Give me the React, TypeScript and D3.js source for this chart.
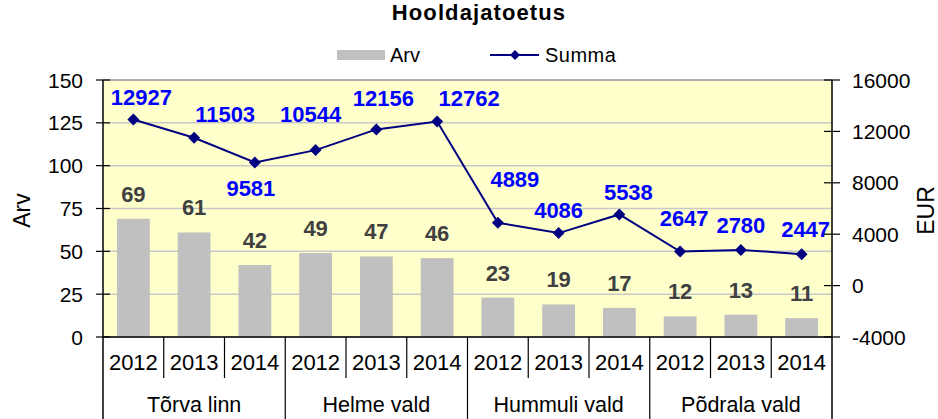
import React from "react";
import * as d3 from "d3";

const groups = ["Tõrva linn", "Helme vald", "Hummuli vald", "Põdrala vald"];
const years = ["2012", "2013", "2014"];
const arv = [69, 61, 42, 49, 47, 46, 23, 19, 17, 12, 13, 11];
const summa = [12927, 11503, 9581, 10544, 12156, 12762, 4889, 4086, 5538, 2647, 2780, 2447];
const leftTicks = [0, 25, 50, 75, 100, 125, 150];
const rightTicks = [-4000, 0, 4000, 8000, 12000, 16000];
// label nudges (layout only): [dx, dy of baseline relative to point]
const lineLabelNudge: [number, number][] = [
  [8, -14], [31, -16], [-4, 34], [-5, -28], [7, -23], [32, -16],
  [17, -36], [0, -15], [9, -14], [4, -26], [0, -17], [4, -17],
];

const W = 938, H = 419;
const L = 103, R = 832, T = 80, B = 337;
const FONT = "'Liberation Sans', Arial, sans-serif";

export default function App() {
  const cats = groups.flatMap((g) => years.map((y) => `${g}|${y}`));
  const x = d3.scaleBand<string>().domain(cats).range([L, R]).paddingInner(0.46).paddingOuter(0.23);
  const step = x.step();
  const yL = d3.scaleLinear().domain([0, 150]).range([B, T]);
  const yR = d3.scaleLinear().domain([-4000, 16000]).range([B, T]);
  const cx = (i: number) => (x(cats[i]) as number) + x.bandwidth() / 2;
  const line = d3.line<number>().x((_, i) => cx(i)).y((d) => yR(d));
  const diamond = (px: number, py: number, r = 6) => `M${px},${py - r}L${px + r},${py}L${px},${py + r}L${px - r},${py}Z`;

  return (
    <svg width={W} height={H} style={{ position: "absolute", left: 0, top: 0, background: "#fff" }} fontFamily={FONT}>
      <rect x={0} y={0} width={W} height={H} fill="#fff" />
      {/* title */}
      <text x={479} y={20} textAnchor="middle" fontWeight="bold" fontSize={22} letterSpacing={1.1} fill="#000">Hooldajatoetus</text>
      {/* legend */}
      <rect x={337} y={50} width={48} height={10} fill="#c0c0c0" />
      <text x={390} y={62} fontSize={20} fill="#000">Arv</text>
      <line x1={490} x2={539} y1={55} y2={55} stroke="#000080" strokeWidth={2} />
      <path d={diamond(515, 55, 5)} fill="#000080" />
      <text x={545} y={62} fontSize={20} fill="#000" letterSpacing={0.5}>Summa</text>

      {/* plot area */}
      <rect x={L} y={T} width={R - L} height={B - T} fill="#ffffcc" />
      {leftTicks.map((t) => (
        <line key={"g" + t} x1={L} x2={R} y1={yL(t)} y2={yL(t)} stroke="#c8c8c8" strokeWidth={1.5} />
      ))}
      <line x1={L} x2={R} y1={T} y2={T} stroke="#a0a0a0" strokeWidth={1.5} />

      {/* bars */}
      {arv.map((v, i) => (
        <rect key={"b" + i} x={x(cats[i])} y={yL(v)} width={x.bandwidth()} height={B - yL(v)} fill="#c0c0c0" />
      ))}
      {arv.map((v, i) => (
        <text key={"bl" + i} x={cx(i)} y={yL(v) - 17} textAnchor="middle" fontWeight="bold" fontSize={22} fill="#404040">{v}</text>
      ))}

      {/* line */}
      <path d={line(summa) || ""} fill="none" stroke="#000080" strokeWidth={2} />
      {summa.map((v, i) => (
        <path key={"m" + i} d={diamond(cx(i), yR(v))} fill="#000080" />
      ))}
      {summa.map((v, i) => (
        <text key={"ll" + i} x={cx(i) + lineLabelNudge[i][0]} y={yR(v) + lineLabelNudge[i][1]} textAnchor="middle" fontWeight="bold" fontSize={22} fill="#0000ff">{v}</text>
      ))}

      {/* left axis */}
      <line x1={L} x2={L} y1={T} y2={H} stroke="#000" strokeWidth={1.5} />
      {leftTicks.map((t) => (
        <g key={"lt" + t}>
          <line x1={L - 7} x2={L + 7} y1={yL(t)} y2={yL(t)} stroke="#000" strokeWidth={1.2} />
          <text x={83} y={yL(t) + 7.5} textAnchor="end" fontSize={21} fill="#000">{t}</text>
        </g>
      ))}
      <text transform={`translate(30,${(T + B) / 2 + 2}) rotate(-90)`} textAnchor="middle" fontSize={23} fill="#000">Arv</text>

      {/* right axis */}
      <line x1={R} x2={R} y1={T} y2={H} stroke="#000" strokeWidth={1.5} />
      {rightTicks.map((t) => (
        <g key={"rt" + t}>
          <line x1={R - 8} x2={R + 8} y1={yR(t)} y2={yR(t)} stroke="#000" strokeWidth={1.2} />
          <text x={852} y={yR(t) + 7.5} textAnchor="start" fontSize={21} fill="#000">{t}</text>
        </g>
      ))}
      <text transform={`translate(934,${(T + B) / 2 + 2}) rotate(-90)`} textAnchor="middle" fontSize={23} fill="#000">EUR</text>

      {/* category axis */}
      <line x1={L} x2={R} y1={B} y2={B} stroke="#000" strokeWidth={1.5} />
      {cats.map((c, i) => {
        const x0 = L + i * step;
        const isGroup = i % years.length === 0;
        return (
          <g key={"c" + i}>
            {i > 0 && <line x1={x0} x2={x0} y1={B} y2={isGroup ? H : 378} stroke="#000" strokeWidth={1.2} />}
            <text x={cx(i)} y={370} textAnchor="middle" fontSize={22} fill="#000">{years[i % years.length]}</text>
          </g>
        );
      })}
      {groups.map((g, gi) => (
        <text key={"gl" + g} x={L + (gi + 0.5) * step * years.length} y={412} textAnchor="middle" fontSize={21.5} fill="#000">{g}</text>
      ))}
    </svg>
  );
}
